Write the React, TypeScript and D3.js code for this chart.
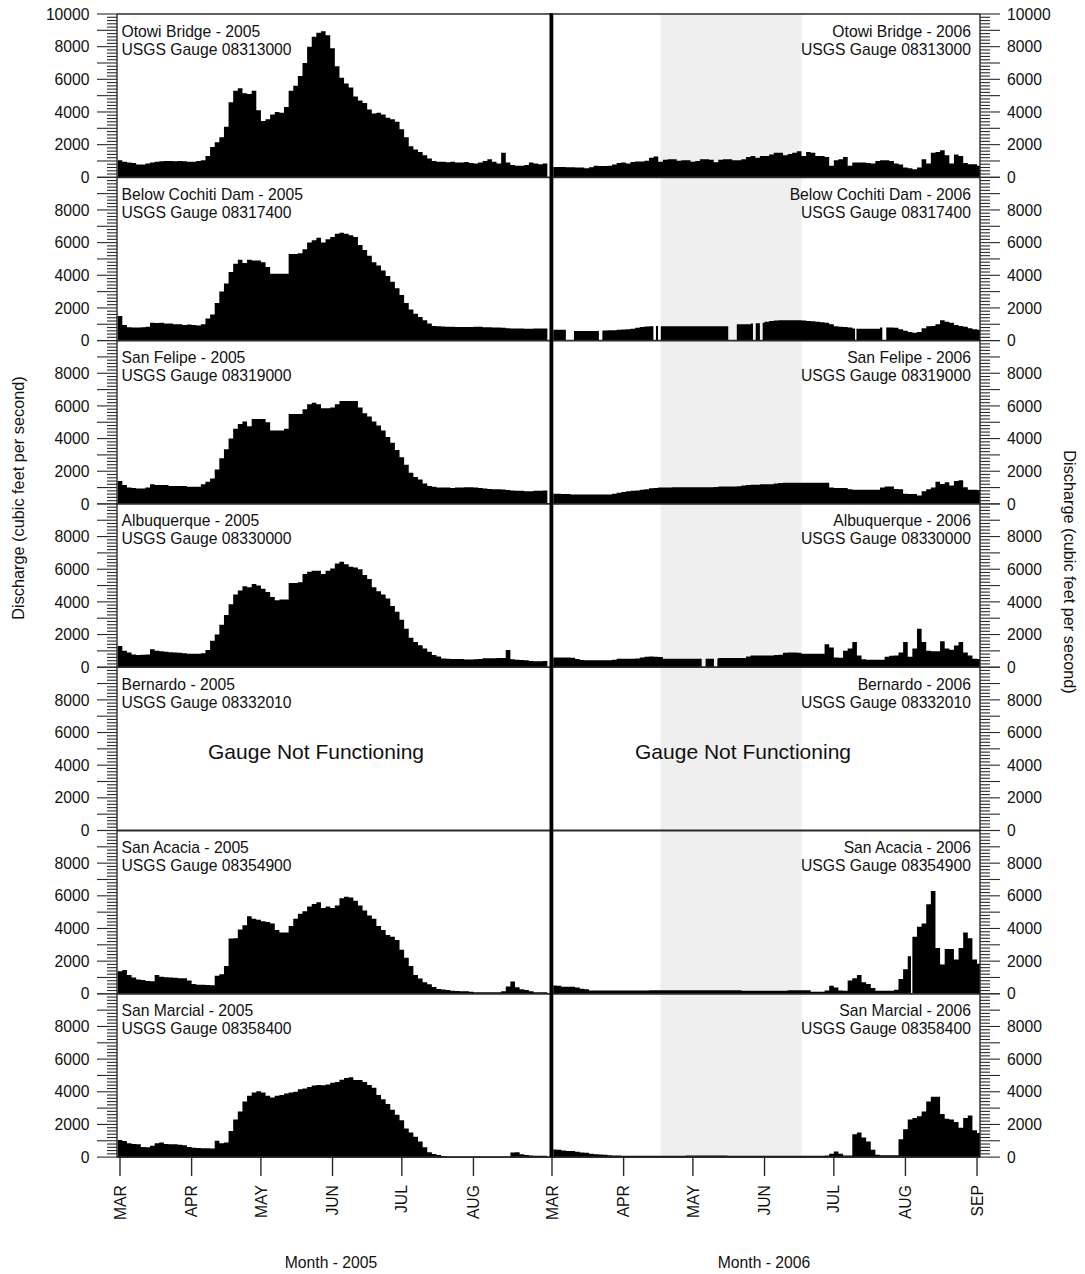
import React from 'react';
import * as d3 from 'd3';

// ---------------- DATA ----------------
// Daily discharge (cfs), averaged into 2‑day bins starting at 1 March.
const BIN_DAYS = 2;
const START_2005 = -1; // first 2005 bin starts one day before Mar 1
const START_2006 = 0;

const stations = ['Otowi Bridge', 'Below Cochiti Dam', 'San Felipe', 'Albuquerque', 'Bernardo', 'San Acacia', 'San Marcial'];
const gauges = ['08313000', '08317400', '08319000', '08330000', '08332010', '08354900', '08358400'];

const months2005 = ['MAR', 'APR', 'MAY', 'JUN', 'JUL', 'AUG'];
const months2006 = ['MAR', 'APR', 'MAY', 'JUN', 'JUL', 'AUG', 'SEP'];
const monthStartDays = [0, 31, 61, 92, 122, 153, 184];
const shadedPeriod2006 = [47, 108]; // days after Mar 1 2006

const otowi2005 = [1050,950,900,880,780,780,850,900,950,980,
1000,1000,980,1000,980,950,950,1000,1050,1300,
1850,2150,2450,3100,4600,5300,5450,5150,5100,5300,
4100,3450,3550,3850,4000,3950,4300,5300,5600,6200,
7000,8000,8600,8850,8950,8700,7900,6800,6100,5750,
5500,4950,4700,4550,4150,3900,3950,3850,3650,3550,
3400,2950,2450,1900,1700,1550,1350,1150,1000,950,
950,920,950,900,900,930,880,850,900,1000,
1100,950,850,1500,900,750,700,700,750,900,
850,800,850];

const cochiti2005 = [1500,950,820,800,800,820,850,1100,1080,1100,
1050,1050,1000,1000,950,980,950,920,1000,1350,
1600,2300,3000,3500,4200,4700,4950,4750,4950,4900,
4900,4800,4500,4100,4100,4100,4100,5300,5300,5350,
5600,6000,6150,6300,6000,6200,6350,6550,6600,6550,
6450,6350,5850,5550,5200,4800,4600,4300,3950,3600,
3200,2800,2300,1900,1650,1450,1250,1050,900,880,
860,850,850,840,830,840,840,850,850,820,
820,800,800,790,760,740,740,740,730,730,
740,740,740];

const sanFelipe2005 = [1400,1150,1000,980,950,950,1000,1200,1150,1150,
1150,1100,1100,1100,1100,1050,1050,1050,1200,1350,
1550,2100,2800,3350,4000,4600,4900,5050,4750,5200,
5200,5200,5000,4500,4500,4500,4600,5500,5500,5500,
5800,6100,6200,6100,5850,5850,5900,6100,6300,6300,
6300,6300,5900,5550,5350,5050,4800,4500,4100,3750,
3300,2850,2400,1900,1650,1500,1250,1100,1050,1000,
1000,1000,980,1000,1000,1020,1020,1000,980,950,
920,900,900,880,850,820,800,800,780,780,
800,800,820];

const albuquerque2005 = [1300,1000,900,780,750,760,780,1100,1000,970,
950,920,900,880,850,820,820,820,850,1050,
1620,2000,2600,3200,3850,4450,4700,4950,4900,5100,
5000,4800,4600,4300,4100,4150,4150,5150,5150,5200,
5700,5850,5900,5900,5700,5900,6050,6350,6450,6300,
6150,6100,6000,5650,5400,4900,4650,4450,4200,3750,
3400,2900,2350,1800,1550,1350,1150,950,750,650,
530,510,500,500,500,470,470,480,500,550,
550,550,560,560,1050,480,460,440,420,380,
360,360,380];

const sanAcacia2005 = [1380,1450,1150,1000,870,850,780,770,1150,1050,
1020,1000,980,950,950,820,600,560,560,540,
520,1100,1200,1700,3380,3400,3940,4200,4750,4600,
4530,4450,4400,4300,3900,3760,3760,4150,4600,4900,
5050,5350,5500,5600,5250,5350,5250,5400,5850,5940,
5900,5700,5400,5100,4800,4600,4150,3900,3600,3500,
3300,2700,2200,1700,1150,930,700,580,420,300,
260,240,180,170,160,150,120,100,100,100,
100,100,100,150,450,750,400,280,230,150,
100,100,100];

const sanMarcial2005 = [1050,980,850,800,780,620,600,700,850,900,
800,790,780,750,720,620,580,560,540,540,
520,1000,850,900,1600,2300,2800,3400,3750,3950,
4040,3950,3750,3650,3750,3800,3900,3950,4000,4150,
4200,4300,4380,4420,4400,4450,4550,4600,4730,4850,
4890,4720,4720,4600,4420,4250,3800,3550,3250,2900,
2600,2250,1750,1500,1250,950,600,300,190,130,
60,40,30,30,30,30,30,30,30,30,
30,30,30,30,30,280,300,180,130,100,
80,80,80];

const otowi2006 = [630,630,630,620,620,600,600,550,620,700,
690,690,700,780,880,900,850,940,960,960,
1020,1200,1280,950,1080,1100,1100,1020,1040,1040,
950,1000,1100,1100,1080,920,1080,1100,1100,1040,
1040,1100,1250,1300,1200,1300,1300,1400,1500,1500,
1350,1420,1500,1600,1300,1550,1500,1300,1300,1250,
700,1050,1100,1250,700,900,900,900,880,850,
1000,1050,1050,1000,850,780,600,550,490,600,
1100,850,1510,1550,1650,1350,850,1400,1300,880,
800,800,700];

const cochiti2006 = [670,670,670,670,590,590,590,590,590,590,
600,620,630,640,660,680,700,730,790,840,
860,880,900,880,880,880,880,880,880,880,
880,880,880,880,880,880,880,880,880,980,
1000,1000,1000,1050,1060,1100,1160,1200,1230,1250,
1250,1250,1250,1250,1230,1200,1180,1150,1130,1100,
1000,880,850,840,800,740,730,730,730,730,
730,800,800,800,780,700,600,530,480,520,
750,880,900,1000,1250,1150,1100,950,900,850,
750,700,670];
const cochiti2006Missing = [[6, 9.5], [20.3, 21.8], [43.9, 45], [45.9, 47.1], [76.3, 80], [87, 88.2], [90, 91.2], [131.2, 131.8], [143, 144.7]];

const sanFelipe2006 = [620,620,600,600,580,580,570,570,570,570,
570,570,580,620,680,730,780,800,820,860,
900,960,980,1000,1000,1000,1020,1020,1020,1020,
1020,1020,1020,1020,1020,1040,1060,1060,1060,1060,
1080,1120,1150,1180,1180,1200,1200,1200,1250,1280,
1300,1300,1300,1300,1300,1300,1300,1300,1300,1300,
1000,980,980,970,900,860,860,860,860,860,
860,1000,1060,1060,920,900,620,610,600,520,
780,900,1000,1350,1220,1330,1120,1400,1450,1020,
860,860,850];

const albuquerque2006 = [590,590,590,590,580,500,440,430,430,430,
430,430,430,450,510,510,510,510,540,600,
640,650,640,620,520,510,510,510,510,510,
510,510,510,520,520,520,560,560,560,560,
560,570,650,720,720,720,720,720,740,760,
880,900,900,880,820,820,820,820,820,1400,
1200,600,580,1000,1150,1540,720,480,460,460,
460,460,640,700,720,900,1540,640,1150,2350,
1540,1000,970,970,1590,1150,1070,1330,1540,900,
720,510,500];
const albuquerque2006Missing = [[64.8, 66.5], [70.1, 71.6]];

const sanAcacia2006 = [510,500,430,430,430,380,310,280,200,200,
200,200,200,200,200,200,200,200,200,200,
200,220,220,220,220,220,220,220,220,220,
220,220,220,220,220,220,220,220,220,220,
220,180,180,180,180,180,180,180,180,180,
180,220,220,220,220,220,130,130,130,200,
500,380,200,180,820,950,1150,700,600,350,
180,180,180,180,250,900,1500,2300,3500,4100,
4300,5480,6300,2800,1800,2740,2750,2100,2800,3760,
3400,2100,1840];
const sanAcacia2006Missing = [[155.4, 156.0]];

const sanMarcial2006 = [460,450,400,380,380,330,280,260,200,180,
160,140,120,100,100,90,90,90,90,90,
90,90,90,90,90,90,90,90,90,100,
100,100,100,100,100,100,100,100,90,90,
90,90,90,90,90,90,90,90,90,90,
90,90,90,90,90,90,80,80,80,100,
200,350,200,100,100,1400,1500,1200,950,450,
150,120,120,120,120,1100,1700,2300,2400,2500,
2800,3400,3700,3700,2640,2350,2300,2150,1800,2400,
2550,1650,1480];

const series2005: (number[] | null)[] = [otowi2005, cochiti2005, sanFelipe2005, albuquerque2005, null, sanAcacia2005, sanMarcial2005];
const series2006: (number[] | null)[] = [otowi2006, cochiti2006, sanFelipe2006, albuquerque2006, null, sanAcacia2006, sanMarcial2006];
const missing2006: number[][][] = [[], cochiti2006Missing, [], albuquerque2006Missing, [], sanAcacia2006Missing, []];

// ---------------- LAYOUT ----------------
const W = 1085;
const H = 1274;
const TOP = 14;
const PANEL_H = 163.3;
const LEFT = 117;
const RIGHT = 980;
const DIV_X0 = 549.5;
const DIV_X1 = 553.3;
const PX_PER_DAY = 2.31;
const FONT = "'Liberation Sans', Arial, Helvetica, sans-serif";
const FS = 15.7;
const LINE = '#2a2a2a';

const x2005 = d3.scaleLinear().domain([0, 184]).range([120, 120 + 184 * PX_PER_DAY]);
const x2006 = d3.scaleLinear().domain([0, 184]).range([552, 552 + 184 * PX_PER_DAY]);

type Pt = { d: number; v: number };

function buildSegments(values: number[], startDay: number, gaps: number[][]): Pt[][] {
  const pieces: { a: number; b: number; v: number }[] = [];
  values.forEach((v, i) => {
    let parts: number[][] = [[startDay + i * BIN_DAYS, startDay + (i + 1) * BIN_DAYS]];
    gaps.forEach(([g0, g1]) => {
      parts = parts.flatMap(([a, b]) => {
        if (g1 <= a || g0 >= b) return [[a, b]];
        const out: number[][] = [];
        if (g0 > a) out.push([a, g0]);
        if (g1 < b) out.push([g1, b]);
        return out;
      });
    });
    parts.forEach(([a, b]) => pieces.push({ a, b, v }));
  });
  const segs: { a: number; b: number; v: number }[][] = [];
  let cur: { a: number; b: number; v: number }[] | null = null;
  pieces.forEach((p) => {
    if (cur && Math.abs(cur[cur.length - 1].b - p.a) < 1e-9) cur.push(p);
    else {
      cur = [p];
      segs.push(cur);
    }
  });
  return segs.map((seg) => [
    ...seg.map((p) => ({ d: p.a, v: p.v })),
    { d: seg[seg.length - 1].b, v: seg[seg.length - 1].v },
  ]);
}

function rowScale(r: number) {
  const zero = TOP + (r + 1) * PANEL_H;
  return d3.scaleLinear().domain([0, 10000]).range([zero, zero - PANEL_H]);
}

export default function App() {
  const rows = stations.map((_, r) => r);
  const tickVals = d3.range(0, 10001, 200);

  const renderSeries = (values: number[] | null, r: number, x: d3.ScaleLinear<number, number>, start: number, gaps: number[][]) => {
    if (!values) return null;
    const y = rowScale(r);
    const area = d3
      .area<Pt>()
      .x((p) => x(p.d))
      .y0(y(0))
      .y1((p) => y(p.v))
      .curve(d3.curveStepAfter);
    return buildSegments(values, start, gaps).map((seg, k) => (
      <path key={k} d={area(seg) || ''} fill="#000" stroke="none" />
    ));
  };

  const bottom = TOP + 7 * PANEL_H;

  return (
    <svg width={W} height={H} style={{ position: 'absolute', left: 0, top: 0, background: '#fff' }} fontFamily={FONT}>
      <defs>
        <clipPath id="clip2005">
          <rect x={LEFT} y={TOP} width={DIV_X0 - LEFT - 0.5} height={bottom - TOP} />
        </clipPath>
        <clipPath id="clip2006">
          <rect x={DIV_X1} y={TOP} width={RIGHT - DIV_X1} height={bottom - TOP} />
        </clipPath>
      </defs>
      <rect x={0} y={0} width={W} height={H} fill="#fff" />

      {/* shaded period 2006 */}
      <rect
        x={x2006(shadedPeriod2006[0])}
        y={TOP}
        width={x2006(shadedPeriod2006[1]) - x2006(shadedPeriod2006[0])}
        height={bottom - TOP}
        fill="#efefef"
      />

      {/* series */}
      <g clipPath="url(#clip2005)">
        {rows.map((r) => (
          <g key={r}>{renderSeries(series2005[r], r, x2005, START_2005, [])}</g>
        ))}
      </g>
      <g clipPath="url(#clip2006)">
        {rows.map((r) => (
          <g key={r}>{renderSeries(series2006[r], r, x2006, START_2006, missing2006[r])}</g>
        ))}
      </g>

      {/* frame lines */}
      <line x1={LEFT} x2={RIGHT} y1={TOP} y2={TOP} stroke={LINE} strokeWidth={1.6} />
      {rows.map((r) => {
        const y0 = rowScale(r)(0);
        return <line key={r} x1={LEFT} x2={RIGHT} y1={y0} y2={y0} stroke={LINE} strokeWidth={1.8} />;
      })}
      <line x1={LEFT} x2={LEFT} y1={TOP} y2={bottom} stroke={LINE} strokeWidth={1.4} />
      <line x1={RIGHT} x2={RIGHT} y1={TOP} y2={bottom} stroke={LINE} strokeWidth={1.4} />
      <rect x={DIV_X0} y={TOP - 0.8} width={DIV_X1 - DIV_X0} height={bottom - TOP + 0.8} fill="#000" />

      {/* y ticks */}
      {rows.map((r) => {
        const y = rowScale(r);
        return (
          <g key={r}>
            {tickVals.map((v) => {
              const major = v % 1000 === 0;
              const len = major ? 20 : 10;
              const yy = y(v);
              return (
                <g key={v}>
                  <line x1={LEFT - len} x2={LEFT} y1={yy} y2={yy} stroke={LINE} strokeWidth={1.1} />
                  <line x1={RIGHT} x2={RIGHT + len} y1={yy} y2={yy} stroke={LINE} strokeWidth={1.1} />
                </g>
              );
            })}
            {tickVals
              .filter((v) => v % 2000 === 0 && (v < 10000 || r === 0))
              .map((v) => (
                <g key={'l' + v}>
                  <text x={89.5} y={y(v)} dy="0.36em" textAnchor="end" fontSize={FS} fill="#111">
                    {v}
                  </text>
                  <text x={1007} y={y(v)} dy="0.36em" textAnchor="start" fontSize={FS} fill="#111">
                    {v}
                  </text>
                </g>
              ))}
          </g>
        );
      })}

      {/* panel labels */}
      {rows.map((r) => {
        const top = TOP + r * PANEL_H;
        return (
          <g key={r} fontSize={FS} fill="#111">
            <text x={121.5} y={top + 22.5}>{`${stations[r]} - 2005`}</text>
            <text x={121.5} y={top + 40.5}>{`USGS Gauge ${gauges[r]}`}</text>
            <text x={971} y={top + 22.5} textAnchor="end">{`${stations[r]} - 2006`}</text>
            <text x={971} y={top + 40.5} textAnchor="end">{`USGS Gauge ${gauges[r]}`}</text>
            {series2005[r] === null && (
              <text x={316} y={top + 92} textAnchor="middle" fontSize={21}>Gauge Not Functioning</text>
            )}
            {series2006[r] === null && (
              <text x={743} y={top + 92} textAnchor="middle" fontSize={21}>Gauge Not Functioning</text>
            )}
          </g>
        );
      })}

      {/* x ticks */}
      {months2005.map((m, i) => {
        const xx = x2005(monthStartDays[i]);
        return (
          <g key={'a' + m}>
            <line x1={xx} x2={xx} y1={bottom} y2={bottom + 19} stroke={LINE} strokeWidth={1.4} />
            <text transform={`translate(${xx},${bottom + 28}) rotate(-90)`} dy="0.36em" textAnchor="end" fontSize={FS} fill="#111">
              {m}
            </text>
          </g>
        );
      })}
      {months2006.map((m, i) => {
        const xx = x2006(monthStartDays[i]);
        return (
          <g key={'b' + m}>
            <line x1={xx} x2={xx} y1={bottom} y2={bottom + 19} stroke={LINE} strokeWidth={1.4} />
            <text transform={`translate(${xx},${bottom + 28}) rotate(-90)`} dy="0.36em" textAnchor="end" fontSize={FS} fill="#111">
              {m}
            </text>
          </g>
        );
      })}

      {/* axis titles */}
      <text x={331} y={1268} textAnchor="middle" fontSize={FS} fill="#111">Month - 2005</text>
      <text x={764} y={1268} textAnchor="middle" fontSize={FS} fill="#111">Month - 2006</text>
      <text transform={`translate(24,498) rotate(-90)`} textAnchor="middle" fontSize={16.3} fill="#111">
        Discharge (cubic feet per second)
      </text>
      <text transform={`translate(1064,572) rotate(90)`} textAnchor="middle" fontSize={16.3} fill="#111">
        Discharge (cubic feet per second)
      </text>
    </svg>
  );
}
